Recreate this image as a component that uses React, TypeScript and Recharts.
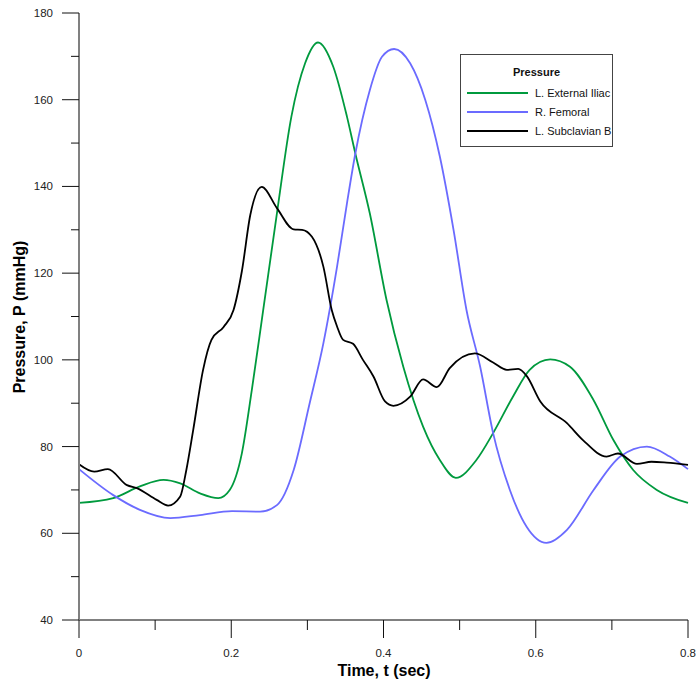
import { LineChart, Line, XAxis, YAxis, Legend } from 'recharts';

// time (s) and pressure (mmHg) samples for each vessel
const iliacT = [0, 0.045, 0.08, 0.111, 0.133, 0.159, 0.183, 0.198, 0.214, 0.227, 0.242, 0.26, 0.279, 0.297, 0.314, 0.334, 0.352, 0.363, 0.382, 0.404, 0.426, 0.452, 0.474, 0.495, 0.522, 0.544, 0.57, 0.592, 0.619, 0.645, 0.676, 0.702, 0.728, 0.759, 0.8];
const iliacP = [67, 68.1, 70.8, 72.3, 71.5, 69.2, 68.1, 70, 78.5, 93, 111.5, 133.8, 156.1, 168.4, 173.2, 167.6, 156.1, 147.6, 133.8, 113.8, 98.4, 84.6, 76.9, 72.8, 76.9, 83.1, 91.5, 97.7, 100.1, 98.4, 90.7, 81.5, 74.6, 70, 67];

const femoralT = [0, 0.045, 0.08, 0.12, 0.159, 0.201, 0.238, 0.26, 0.282, 0.303, 0.321, 0.339, 0.352, 0.363, 0.382, 0.398, 0.414, 0.435, 0.455, 0.474, 0.492, 0.509, 0.527, 0.544, 0.566, 0.588, 0.614, 0.641, 0.676, 0.711, 0.746, 0.776, 0.8];
const femoralP = [74.8, 68.8, 65.4, 63.5, 64.2, 65.1, 65, 66.5, 74.6, 90, 103.8, 121.5, 136.1, 147.6, 162.2, 169.9, 171.7, 168.4, 159.9, 146.9, 130, 111.5, 98.4, 83.1, 70, 61.5, 57.8, 60.8, 70, 77.7, 80, 77.7, 74.8];

const subclavianT = [0, 0.02, 0.038, 0.063, 0.076, 0.102, 0.117, 0.133, 0.141, 0.15, 0.163, 0.174, 0.19, 0.203, 0.214, 0.225, 0.24, 0.26, 0.282, 0.293, 0.306, 0.321, 0.332, 0.339, 0.347, 0.36, 0.373, 0.387, 0.402, 0.413, 0.435, 0.452, 0.47, 0.487, 0.52, 0.544, 0.562, 0.577, 0.588, 0.606, 0.641, 0.662, 0.693, 0.708, 0.733, 0.752, 0.772, 0.8];
const subclavianP = [75.9, 74.2, 74.8, 71.1, 70.4, 67.7, 66.4, 68.5, 74.6, 83.8, 97.7, 104.6, 107.6, 111.5, 120.5, 133.4, 139.9, 135, 130.1, 130, 128.4, 121.5, 111.5, 107.7, 104.6, 103.7, 100, 96.1, 90.4, 89.4, 91.5, 95.5, 93.7, 98.1, 101.5, 99.4, 97.7, 97.9, 96.3, 90.4, 85.4, 81.5, 77.7, 78.4, 76, 76.5, 76.3, 75.8];

const seriesNames = ['L. External Iliac', 'R. Femoral', 'L. Subclavian B'];
const seriesColors = ['#009a3e', '#6b6bff', '#000000'];

const xTicks = [0, 0.1, 0.2, 0.3, 0.4, 0.5, 0.6, 0.7, 0.8];
const yTicks = [40, 50, 60, 70, 80, 90, 100, 110, 120, 130, 140, 150, 160, 170, 180];

const toRows = (ts: number[], ps: number[]) => ts.map((t, i) => ({ t, p: ps[i] }));

const FONT = '"Liberation Sans", Arial, sans-serif';

const YTick = (props: any) => {
  const { x, y, payload } = props;
  const v = payload.value;
  const major = v % 20 === 0;
  return (
    <g>
      <line x1={x} x2={x - (major ? 17 : 8)} y1={y} y2={y} stroke="#111" strokeWidth={1} />
      {major && (
        <text x={x - 26} y={y} dy={4} textAnchor="end" fontSize={11.5} fontFamily={FONT} fill="#222">
          {v}
        </text>
      )}
    </g>
  );
};

const XTick = (props: any) => {
  const { x, y, payload } = props;
  const v = payload.value;
  const major = Math.round(v * 10) % 2 === 0;
  return (
    <g>
      <line x1={x} x2={x} y1={y} y2={y + (major ? 18 : 10)} stroke="#111" strokeWidth={1} />
      {major && (
        <text x={x} y={y + 37} textAnchor="middle" fontSize={11.5} fontFamily={FONT} fill="#222">
          {v === 0 ? '0' : v.toFixed(1)}
        </text>
      )}
    </g>
  );
};

const YTitle = () => (
  <text
    x={25}
    y={317}
    transform="rotate(-90 25 317)"
    textAnchor="middle"
    fontSize={16}
    fontWeight="bold"
    fontFamily={FONT}
    fill="#000"
  >
    Pressure, P (mmHg)
  </text>
);

const XTitle = () => (
  <text x={384} y={676} textAnchor="middle" fontSize={16} fontWeight="bold" fontFamily={FONT} fill="#000">
    Time, t (sec)
  </text>
);

const LegendBox = (props: any) => {
  const items = [...(props.payload || [])].sort(
    (a: any, b: any) => seriesNames.indexOf(a.value) - seriesNames.indexOf(b.value)
  );
  return (
    <div
      style={{
        width: 153,
        height: 93,
        boxSizing: 'border-box',
        border: '1px solid #444',
        background: '#fff',
        fontFamily: FONT,
        fontSize: 11,
        color: '#111',
        position: 'relative',
        whiteSpace: 'nowrap',
      }}
    >
      <div style={{ position: 'absolute', top: 11, left: 0, width: '100%', textAlign: 'center', fontWeight: 'bold' }}>
        Pressure
      </div>
      {items.map((it: any, i: number) => (
        <div key={it.value} style={{ position: 'absolute', left: 6, top: 30 + i * 19, height: 16, display: 'flex', alignItems: 'center' }}>
          <span style={{ display: 'inline-block', width: 61, height: 0, borderTop: `2px solid ${it.color}` }} />
          <span style={{ marginLeft: 7 }}>{it.value}</span>
        </div>
      ))}
    </div>
  );
};

export default function App() {
  return (
    <div style={{ position: 'absolute', left: 0, top: 0, width: 698, height: 683, background: '#fff' }}>
      <LineChart width={698} height={683} margin={{ top: 13, right: 10, bottom: 0, left: 0 }}>
        <XAxis
          dataKey="t"
          type="number"
          domain={[0, 0.8]}
          ticks={xTicks}
          interval={0}
          height={63}
          tickSize={0}
          tickMargin={0}
          tickLine={false}
          tick={<XTick />}
          axisLine={{ stroke: '#808080', strokeWidth: 2 }}
          label={<XTitle />}
          allowDuplicatedCategory={false}
        />
        <YAxis
          type="number"
          domain={[40, 180]}
          ticks={yTicks}
          interval={0}
          width={79}
          tickSize={0}
          tickMargin={0}
          tickLine={false}
          tick={<YTick />}
          axisLine={{ stroke: '#808080', strokeWidth: 2 }}
          label={<YTitle />}
        />
        <Legend
          layout="vertical"
          align="center"
          verticalAlign="middle"
          content={<LegendBox />}
          wrapperStyle={{ left: 460, top: 54, width: 153, height: 93 }}
        />
        <Line data={toRows(iliacT, iliacP)} dataKey="p" name={seriesNames[0]} type="monotone" stroke={seriesColors[0]} strokeWidth={1.8} dot={false} isAnimationActive={false} />
        <Line data={toRows(femoralT, femoralP)} dataKey="p" name={seriesNames[1]} type="monotone" stroke={seriesColors[1]} strokeWidth={1.8} dot={false} isAnimationActive={false} />
        <Line data={toRows(subclavianT, subclavianP)} dataKey="p" name={seriesNames[2]} type="monotone" stroke={seriesColors[2]} strokeWidth={1.8} dot={false} isAnimationActive={false} />
      </LineChart>
    </div>
  );
}
